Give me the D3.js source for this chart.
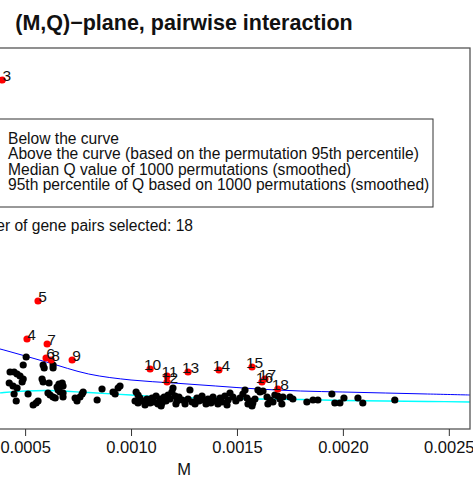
<!DOCTYPE html>
<html><head><meta charset="utf-8">
<script src="https://cdn.jsdelivr.net/npm/d3@7"></script>
<style>body{margin:0;background:#fff}svg{display:block;font-family:"Liberation Sans",Arial,Helvetica,sans-serif}</style>
</head><body><svg id="c" width="473" height="477"></svg>
<script>
// ---- data ----
const title = "(M,Q)\u2212plane, pairwise interaction";
const xTicks = [0.0005, 0.0010, 0.0015, 0.0020, 0.0025];
const xTickLabels = ["0.0005","0.0010","0.0015","0.0020","0.0025"];
const legendItems = [
  "Below the curve",
  "Above the curve (based on the permutation 95th percentile)",
  "Median Q value of 1000 permutations (smoothed)",
  "95th percentile of Q based on 1000 permutations (smoothed)"
];
const noteText = "Number of gene pairs selected: 18";
// selected pairs (above curve)
const selLabels = [3,4,5,6,7,8,9,10,11,12,13,14,15,16,17,18];
const selM = [0.000392,0.000509,0.000561,0.000599,0.000604,0.000623,0.000722,0.001090,0.001170,0.001170,0.001269,0.001415,0.001571,0.001618,0.001632,0.001693];
const selQ = [0.340,0.081,0.119,0.062,0.076,0.060,0.060,0.051,0.044,0.038,0.048,0.050,0.053,0.038,0.041,0.031];
// pairs below the curve
const belowM = [0.000505,0.000491,0.000429,0.000448,0.000462,0.000476,0.000425,0.000443,0.000486,0.000491,0.000462,0.000448,0.000458,0.000514,0.000538,0.000552,0.000561,0.000585,0.000590,0.000632,0.000632,0.000580,0.000585,0.000613,0.000608,0.000618,0.000632,0.000642,0.000651,0.000660,0.000675,0.000679,0.000656,0.000665,0.000679,0.000679,0.000736,0.000745,0.000759,0.000769,0.000774,0.000840,0.000863,0.000915,0.000925,0.000939,0.000948,
0.001024,0.001033,0.001042,0.001033,0.001052,0.001066,0.001075,0.001090,0.001099,0.001109,0.001118,0.001127,0.001137,0.001146,0.001156,0.001165,0.001175,0.001184,0.001193,0.001198,0.001208,0.001217,0.001226,0.001241,0.001278,0.001269,0.001288,0.001302,0.001311,0.001321,0.001335,0.001344,0.001354,0.001363,0.001377,0.001387,0.001396,0.001410,0.001420,0.001429,0.001443,0.001458,0.001467,0.001481,0.001495,0.001514,0.001528,0.001538,0.001547,0.001552,0.001561,0.001575,0.001585,0.001599,0.001609,0.001623,0.001642,0.001656,0.001670,0.001679,0.001693,0.001703,0.001712,0.001717,0.001750,0.001830,0.001859,0.001882,0.001948,0.001962,0.001986,0.002005,0.002071,0.002094,0.002245,
0.001019,0.001255,0.001142,0.001212,0.001453,0.001571,0.001646,0.001764];
const belowQ = [0.063,0.055,0.048,0.048,0.046,0.044,0.037,0.034,0.038,0.041,0.032,0.026,0.019,0.026,0.015,0.017,0.019,0.055,0.052,0.055,0.052,0.041,0.038,0.037,0.027,0.025,0.023,0.022,0.033,0.036,0.037,0.034,0.030,0.028,0.027,0.023,0.022,0.019,0.023,0.026,0.028,0.020,0.031,0.028,0.026,0.032,0.034,
0.028,0.025,0.022,0.017,0.019,0.015,0.021,0.017,0.022,0.018,0.024,0.016,0.021,0.017,0.023,0.019,0.025,0.021,0.028,0.032,0.024,0.019,0.023,0.020,0.030,0.021,0.018,0.016,0.022,0.019,0.024,0.020,0.016,0.021,0.017,0.023,0.019,0.016,0.022,0.018,0.024,0.020,0.027,0.023,0.019,0.022,0.026,0.030,0.022,0.016,0.019,0.017,0.021,0.030,0.028,0.029,0.023,0.020,0.018,0.025,0.024,0.021,0.016,0.023,0.023,0.018,0.020,0.020,0.026,0.017,0.017,0.022,0.022,0.017,0.020,
0.019,0.016,0.014,0.016,0.015,0.014,0.016,0.021];
// smoothed permutation curves
const curveM = [0,0.0002,0.0004,0.0006,0.0008,0.0010,0.0012,0.0014,0.0016,0.0018,0.0020,0.0022,0.0024,0.0026];
const q95 = [0.092,0.081,0.070,0.058,0.046,0.040,0.037,0.034,0.031,0.029,0.028,0.027,0.026,0.025];
const qMed = [0.016,0.022,0.0275,0.0295,0.0275,0.025,0.0225,0.022,0.021,0.0205,0.0195,0.019,0.0185,0.018];

// ---- drawing ----
const svg = d3.select("#c");
const plot = {left:-102, right:470, top:48, bottom:429};
const x = d3.scaleLinear().domain([-0.0001,0.0026]).range([plot.left, plot.right]);
const y = d3.scaleLinear().domain([0,0.36]).range([420,60]);

svg.append("text").attr("x",184).attr("y",30).attr("text-anchor","middle")
  .attr("font-weight","bold").attr("font-size",21.5).attr("fill","#111").text(title);

const g = svg.append("g");
const line = d3.line().x(d=>x(d[0])).y(d=>y(d[1])).curve(d3.curveCatmullRom);
g.append("path").datum(curveM.map((m,i)=>[m,q95[i]])).attr("d",line)
  .attr("fill","none").attr("stroke","#0000ff").attr("stroke-width",1);
g.append("path").datum(curveM.map((m,i)=>[m,qMed[i]])).attr("d",line)
  .attr("fill","none").attr("stroke","#00ffff").attr("stroke-width",1.3);

g.selectAll("circle.b").data(belowM.map((m,i)=>[m,belowQ[i]])).join("circle")
  .attr("class","b").attr("cx",d=>x(d[0])).attr("cy",d=>y(d[1])).attr("r",3.6).attr("fill","#000");
const sel = selM.map((m,i)=>({m, q:selQ[i], lab:selLabels[i]}));
g.selectAll("circle.r").data(sel).join("circle")
  .attr("class","r").attr("cx",d=>x(d.m)).attr("cy",d=>y(d.q)).attr("r",3.6).attr("fill","#ff0000");
g.selectAll("text.lab").data(sel).join("text")
  .attr("class","lab").attr("x",d=>x(d.m)+(d.lab<10?4.5:2.5)).attr("y",d=>y(d.q)+1)
  .attr("text-anchor","middle").attr("font-size",15.5).attr("fill","#111").text(d=>d.lab);

svg.append("rect").attr("x",plot.left).attr("y",plot.top)
  .attr("width",plot.right-plot.left).attr("height",plot.bottom-plot.top)
  .attr("fill","none").attr("stroke","#555").attr("stroke-width",1.3);

const ax = svg.append("g").attr("transform",`translate(0,${plot.bottom})`)
  .call(d3.axisBottom(x).tickValues(xTicks).tickFormat((d,i)=>xTickLabels[i]).tickSize(7).tickPadding(5));
ax.select(".domain").remove();
ax.selectAll("line").attr("stroke","#333");
ax.selectAll("text").attr("font-size",16.5).attr("fill","#111").attr("font-family","Liberation Sans, Arial, sans-serif");
svg.append("text").attr("x",184).attr("y",475).attr("text-anchor","middle").attr("font-size",16.5).attr("fill","#111").text("M");

const lg = svg.append("g");
lg.append("rect").attr("x",-60).attr("y",119).attr("width",493).attr("height",88)
  .attr("fill","#fff").attr("stroke","#333").attr("stroke-width",1);
legendItems.forEach((t,i)=>{
  lg.append("text").attr("x",8).attr("y",144+i*15.3).attr("font-size",15.6).attr("fill","#111").text(t);
});
svg.append("text").attr("x",193).attr("y",231).attr("text-anchor","end").attr("font-size",15.6).attr("fill","#111").text(noteText);
</script></body></html>
